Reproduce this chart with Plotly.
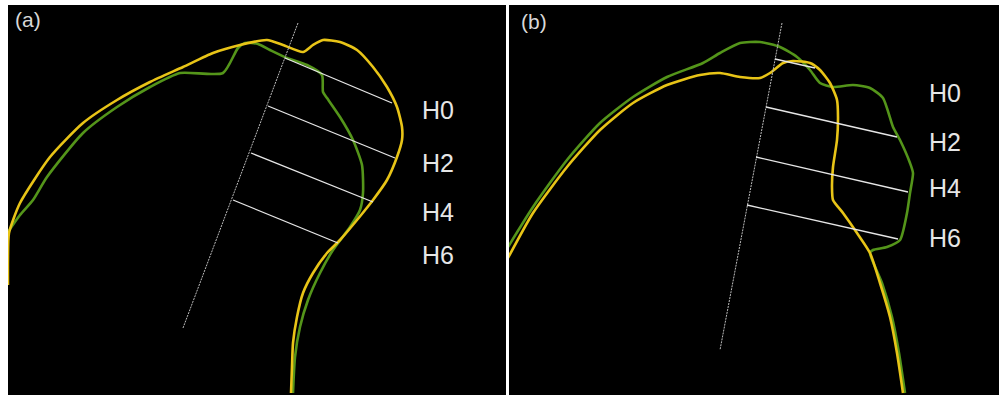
import plotly.graph_objects as go

# ---------------- data (image-pixel coordinates of the traced contours) ----------------
# Panel (a)
a_yellow_x = [8, 8, 9, 20, 50, 83, 117, 150, 183, 213, 240, 267, 283, 303, 313, 323, 340, 357, 373, 387,
              397, 402, 402, 397, 387, 373, 357, 340, 327, 313, 303, 297, 293, 292, 291]
a_yellow_y = [285, 260, 233, 203, 157, 123, 100, 82, 67, 53, 45, 40, 45, 52, 45, 40, 42, 50, 67, 87,
              107, 127, 140, 157, 180, 200, 220, 240, 253, 273, 293, 317, 343, 367, 393]
a_green_x = [8, 20, 33, 47, 83, 117, 150, 180, 223, 238, 245, 258, 270, 287, 307, 322, 323, 327, 340, 353,
             362, 363, 360, 350, 333, 320, 308, 300, 295, 293]
a_green_y = [232, 215, 200, 177, 133, 107, 87, 73, 73, 48, 43, 44, 50, 58, 65, 75, 92, 98, 117, 140,
             165, 193, 210, 227, 250, 273, 300, 327, 357, 393]
a_axis_x = [298, 183]
a_axis_y = [23, 328]
a_h_x0 = [285, 268, 251, 233]
a_h_y0 = [58, 106, 153, 200]
a_h_x1 = [392, 395, 373, 338]
a_h_y1 = [103, 158, 202, 243]
a_label_x = [420, 420, 420, 420]
a_label_y = [110, 163, 212, 255]

# Panel (b)
b_yellow_x = [508, 533, 567, 600, 633, 667, 700, 720, 740, 760, 770, 783, 793, 810, 820, 830, 837, 838,
              837, 833, 832, 833, 843, 857, 870, 880, 890, 897, 903]
b_yellow_y = [258, 213, 167, 130, 103, 85, 75, 73, 77, 78, 73, 63, 61, 63, 70, 83, 100, 117,
              140, 167, 187, 200, 213, 233, 253, 283, 317, 353, 393]
b_green_x = [508, 533, 567, 600, 633, 667, 703, 720, 740, 760, 780, 797, 810, 820, 833, 853, 870, 883,
             893, 900, 910, 913, 910, 907, 900, 887, 873, 870, 882, 892, 899, 905]
b_green_y = [247, 207, 160, 123, 97, 77, 63, 53, 43, 42, 47, 57, 70, 83, 87, 85, 88, 98,
             127, 140, 163, 173, 193, 213, 240, 247, 250, 253, 283, 317, 353, 393]
b_axis_x = [782, 720]
b_axis_y = [23, 350]
b_h_x0 = [775, 766, 756, 747]
b_h_y0 = [59, 107, 157, 205]
b_h_x1 = [815, 897, 908, 898]
b_h_y1 = [68, 137, 192, 239]
b_label_x = [927, 927, 927, 927]
b_label_y = [93, 142, 188, 238]

labels = ["H0", "H2", "H4", "H6"]
panel_tags = ["(a)", "(b)"]

YELLOW = "#e8c417"
GREEN = "#54951a"
WHITE = "#e6e6e6"

fig = go.Figure()

def add_panel(xa, ya, yx, yy, gx, gy, axx, axy, hx0, hy0, hx1, hy1):
    fig.add_trace(go.Scatter(x=gx, y=gy, mode="lines", line=dict(color=GREEN, width=2.6, shape="spline", smoothing=0.6),
                             xaxis=xa, yaxis=ya, hoverinfo="skip"))
    fig.add_trace(go.Scatter(x=yx, y=yy, mode="lines", line=dict(color=YELLOW, width=2.6, shape="spline", smoothing=0.6),
                             xaxis=xa, yaxis=ya, hoverinfo="skip"))
    fig.add_trace(go.Scatter(x=axx, y=axy, mode="lines", line=dict(color="#bdbdbd", width=1, dash="2px,1px"),
                             xaxis=xa, yaxis=ya, hoverinfo="skip"))
    for x0, y0, x1, y1 in zip(hx0, hy0, hx1, hy1):
        fig.add_trace(go.Scatter(x=[x0, x1], y=[y0, y1], mode="lines", line=dict(color=WHITE, width=1.3),
                                 xaxis=xa, yaxis=ya, hoverinfo="skip"))

add_panel("x", "y", a_yellow_x, a_yellow_y, a_green_x, a_green_y, a_axis_x, a_axis_y,
          a_h_x0, a_h_y0, a_h_x1, a_h_y1)
add_panel("x2", "y2", b_yellow_x, b_yellow_y, b_green_x, b_green_y, b_axis_x, b_axis_y,
          b_h_x0, b_h_y0, b_h_x1, b_h_y1)

LABEL_FONT = dict(family="Liberation Sans", size=25, color=WHITE)
TAG_FONT = dict(family="Liberation Sans", size=21, color="#d8d8d8")
annotations = []
for lab, x, y in zip(labels, a_label_x, a_label_y):
    annotations.append(dict(text=lab, x=x, y=y, xref="x", yref="y", xanchor="left", yanchor="middle",
                            showarrow=False, font=LABEL_FONT))
for lab, x, y in zip(labels, b_label_x, b_label_y):
    annotations.append(dict(text=lab, x=x, y=y, xref="x2", yref="y2", xanchor="left", yanchor="middle",
                            showarrow=False, font=LABEL_FONT))
annotations.append(dict(text=panel_tags[0], x=13, y=20, xref="x", yref="y", xanchor="left", yanchor="middle",
                        showarrow=False, font=TAG_FONT))
annotations.append(dict(text=panel_tags[1], x=519, y=22, xref="x2", yref="y2", xanchor="left", yanchor="middle",
                        showarrow=False, font=TAG_FONT))

ax_common = dict(visible=False, showgrid=False, zeroline=False, fixedrange=True)
fig.update_layout(
    width=999, height=395,
    margin=dict(l=0, r=0, t=0, b=0),
    paper_bgcolor="white", plot_bgcolor="black",
    showlegend=False,
    xaxis=dict(domain=[8 / 999, 506 / 999], range=[8, 506], **ax_common),
    yaxis=dict(domain=[0, 390 / 395], range=[395, 5], **ax_common),
    xaxis2=dict(domain=[509 / 999, 1], range=[509, 999], anchor="y2", **ax_common),
    yaxis2=dict(domain=[0, 390 / 395], range=[395, 5], anchor="x2", **ax_common),
    annotations=annotations,
)

fig.write_html("out.html", config={"displayModeBar": False},
               post_script="document.body.style.margin='0';document.body.style.padding='0';")
